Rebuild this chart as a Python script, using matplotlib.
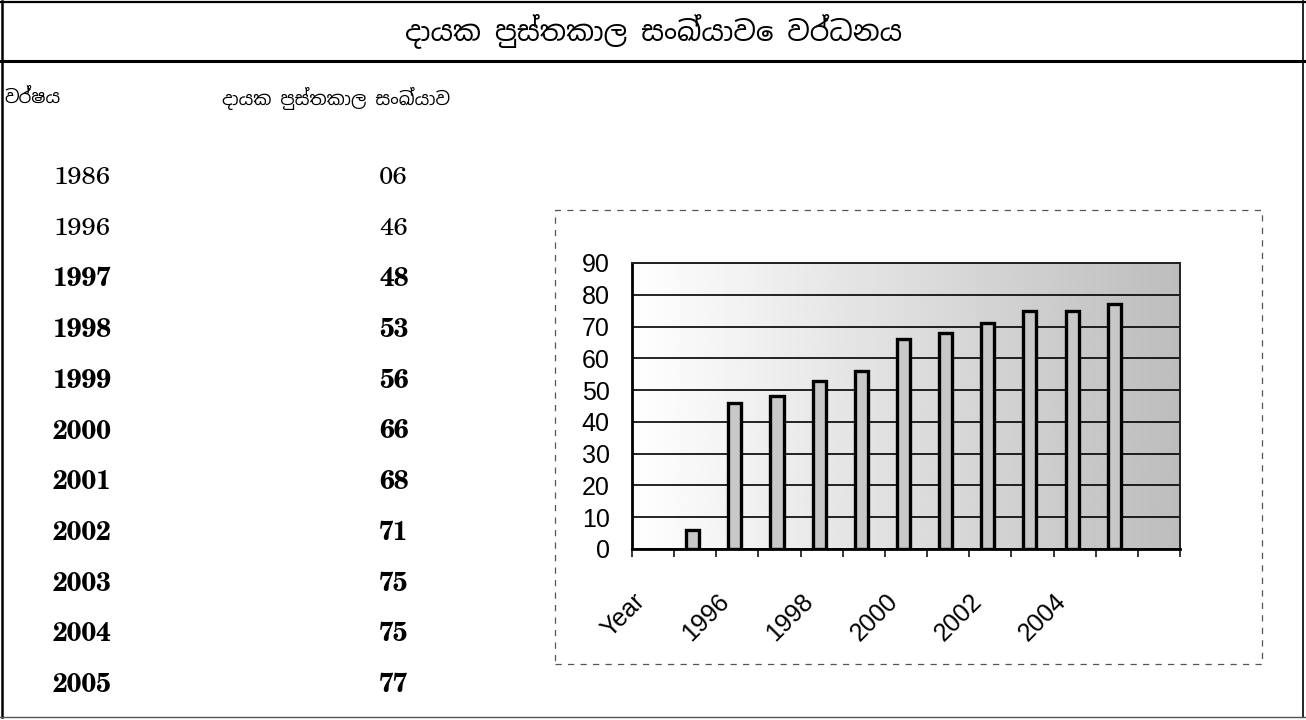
import numpy as np
import matplotlib
matplotlib.use("Agg")
import matplotlib.pyplot as plt
import matplotlib.transforms as mtransforms
from matplotlib.patches import Rectangle
from matplotlib.lines import Line2D
import logging

logging.getLogger("matplotlib.font_manager").setLevel(logging.ERROR)

TITLE = "දායක පුස්තකාල සංඛ්යාවෙ වර්ධනය"
HEAD_YEAR = "වර්ෂය"
HEAD_COUNT = "දායක පුස්තකාල සංඛ්යාව"

YEARS = ["1986", "1996", "1997", "1998", "1999", "2000",
         "2001", "2002", "2003", "2004", "2005"]
COUNTS = [6, 46, 48, 53, 56, 66, 68, 71, 75, 75, 77]

# Excel-style category axis: header cell first, one empty slot at the end
CATEGORIES = ["Year"] + YEARS + [""]
Y_TICKS = [0, 10, 20, 30, 40, 50, 60, 70, 80, 90]

SINHALA = ["Noto Sans Sinhala", "Abhaya Libre", "FreeSerif", "DejaVu Sans"]
SERIF = ["C059", "TeX Gyre Schola", "Century Schoolbook L", "Liberation Serif"]
SANS = ["Liberation Sans", "DejaVu Sans"]

W, H = 1306, 720


def fx(px):
    return px / W


def fy(py):
    return 1 - py / H


fig = plt.figure(figsize=(W / 100, H / 100), dpi=100)
fig.patch.set_facecolor("white")

# page frame
frame_kw = dict(color="black", transform=fig.transFigure)
fig.add_artist(Line2D([fx(2), fx(2)], [fy(1), fy(717)], lw=1.8, **frame_kw))
fig.add_artist(Line2D([fx(0), fx(1306)], [fy(2), fy(2)], lw=1.6, **frame_kw))
fig.add_artist(Line2D([fx(0), fx(1306)], [fy(61), fy(61)], lw=2.2, **frame_kw))
fig.add_artist(Line2D([fx(1303), fx(1303)], [fy(1), fy(717)], lw=1.2, **frame_kw))
fig.add_artist(Line2D([fx(0), fx(1306)], [fy(717), fy(717)], lw=1.0,
                      color="#555555", transform=fig.transFigure))

fig.text(fx(654), fy(31), TITLE, family=SINHALA, fontsize=20, weight="medium",
         ha="center", va="center")
fig.text(fx(4), fy(98), HEAD_YEAR, family=SINHALA, fontsize=13,
         ha="left", va="center")
fig.text(fx(222), fy(98), HEAD_COUNT, family=SINHALA, fontsize=13,
         ha="left", va="center")

# data table
for i, (year, count) in enumerate(zip(YEARS, COUNTS)):
    y = fy(178 + i * 50.7)
    weight = "normal" if i < 2 else "bold"
    fig.text(fx(53), y, year, family=SERIF, fontsize=18.5, weight=weight,
             ha="left", va="center")
    fig.text(fx(379), y, f"{count:02d}", family=SERIF, fontsize=18.5,
             weight=weight, ha="left", va="center")

# dashed chart-area border
fig.add_artist(Rectangle((fx(555), fy(664)), fx(1262) - fx(555), fy(210) - fy(664),
                         fill=False, ls=(0, (5, 5)), lw=0.9, ec="#555555",
                         transform=fig.transFigure))

ax = fig.add_axes([fx(632), fy(549), fx(1180) - fx(632), fy(263) - fy(549)])

# plot-area fill: white fading to stippled grey on the right
grad = np.linspace(1.0, 0.74, 256)[None, :]
ax.imshow(grad, cmap="gray", vmin=0, vmax=1, aspect="auto",
          extent=(0, 1, 0, 1), transform=ax.transAxes, zorder=0)

x = np.arange(len(CATEGORIES))
ax.bar(x[1:1 + len(COUNTS)] - 0.06, COUNTS, width=0.31, color="#c8c8c8",
       edgecolor="black", linewidth=2.4, zorder=3)

ax.set_xlim(-0.5, len(CATEGORIES) - 0.5)
ax.set_ylim(0, 90)
ax.set_yticks(Y_TICKS)
ax.yaxis.grid(True, color="black", linewidth=1.2, zorder=1)
ax.set_axisbelow(True)
ax.tick_params(axis="y", length=0, pad=16, labelsize=18)
for lab in ax.get_yticklabels():
    lab.set_family(SANS)

# tick marks on category boundaries, labels on every second category
ax.set_xticks(np.arange(len(CATEGORIES) + 1) - 0.5)
ax.set_xticklabels([])
ax.tick_params(axis="x", which="major", length=6, width=1.1, direction="out")
ax.set_xticks(x[::2], minor=True)
ax.set_xticklabels(CATEGORIES[::2], minor=True)
ax.tick_params(axis="x", which="minor", length=0, pad=35, labelsize=18)
offset = mtransforms.ScaledTranslation(-12 / 100, 0, fig.dpi_scale_trans)
for lab in ax.get_xticklabels(minor=True):
    lab.set_family(SANS)
    lab.set_rotation(45)
    lab.set_ha("right")
    lab.set_va("center")
    lab.set_rotation_mode("anchor")
    lab.set_transform(lab.get_transform() + offset)

for side in ["left", "bottom"]:
    ax.spines[side].set_linewidth(2.0)
for side in ["top", "right"]:
    ax.spines[side].set_linewidth(1.4)
    ax.spines[side].set_color("#222222")

fig.savefig("out.png", dpi=100)
